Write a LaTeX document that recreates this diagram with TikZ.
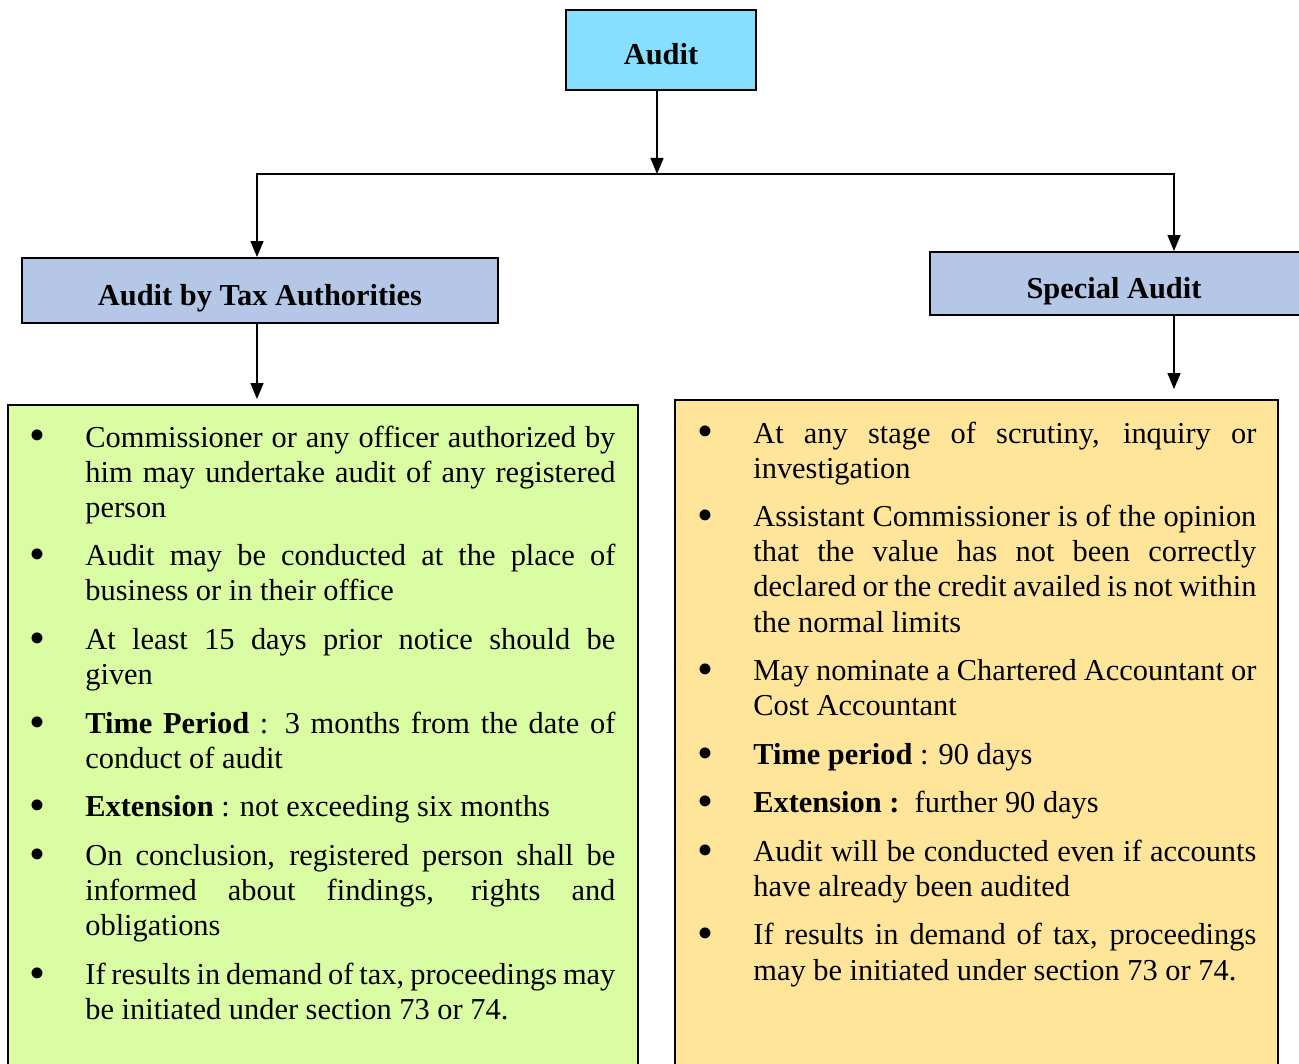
\documentclass[tikz,border=0pt]{standalone}
\usepackage{fontspec}
\setmainfont{Liberation Serif}
\usepackage{graphicx}
\usepackage{enumitem}
\usepackage{xcolor}
\usetikzlibrary{arrows.meta,positioning}
\definecolor{auditcyan}{RGB}{135,223,255}
\definecolor{headblue}{RGB}{180,199,231}
\definecolor{notegreen}{RGB}{218,253,163}
\definecolor{noteyellow}{RGB}{255,229,153}
\newcommand{\notebullet}{\raisebox{-0.13em}{\scalebox{1.5}{\textbullet}}}
\newcommand{\noteitems}{\setlist[itemize]{leftmargin=1.12cm,labelsep=0pt,labelwidth=1.12cm,align=left,topsep=0pt,partopsep=0pt,itemsep=7.6pt,parsep=0pt,label=\notebullet}}

\begin{document}
\begin{tikzpicture}[>={Triangle[length=0.32cm,width=0.26cm]},
box/.style={draw,line width=1.1pt,inner sep=0pt},
head/.style={box,font=\fontsize{17.3}{20}\selectfont\bfseries,text height=0.6cm,text depth=0pt},
notes/.style={anchor=north west,inner sep=0pt,align=justify,font=\fontsize{17.3}{20}\selectfont},
link/.style={->,line width=0.8pt}]
\useasboundingbox(0,0)rectangle(25.98,-21.28);
\node[head,fill=auditcyan,minimum width=3.8cm,minimum height=1.6cm](audit)at(13.22,-1.0){Audit};
\node[head,fill=headblue,minimum width=9.52cm,minimum height=1.3cm](tax)at(5.2,-5.81){Audit by Tax Authorities};
\node[head,fill=headblue,minimum width=7.6cm,minimum height=1.26cm](spec)at(22.4,-5.67){\hspace*{-0.24cm}Special Audit};
\node[box,fill=notegreen,minimum width=12.6cm,minimum height=13.4cm](lbox)at(6.46,-14.8){};
\node[box,fill=noteyellow,minimum width=12.06cm,minimum height=13.5cm](rbox)at(19.53,-14.75){};
\coordinate(jn)at(13.14,-3.48);
\node[notes,text width=11.72cm](ltext)at([xshift=0.44cm,yshift=-0.15cm]lbox.north west){\noteitems
\begin{itemize}
\item Commissioner or any officer authorized by\linebreak him may undertake audit of any registered\linebreak person
\item Audit may be conducted at the place of\linebreak business or in their office
\item At least 15 days prior notice should be\linebreak given
\item \textbf{Time Period} : 3 months from the date of\linebreak conduct of audit
\item \textbf{Extension} : not exceeding six months
\item On conclusion, registered person shall be\linebreak informed about findings, rights and\linebreak obligations
\item If results in demand of tax, proceedings may\linebreak be initiated under section 73 or 74.
\end{itemize}};
\node[notes,text width=11.18cm](rtext)at([xshift=0.46cm,yshift=-0.17cm]rbox.north west){\noteitems
\begin{itemize}
\item At any stage of scrutiny, inquiry or\linebreak investigation
\item Assistant Commissioner is of the opinion\linebreak that the value has not been correctly\linebreak declared or the credit availed is not within\linebreak the normal limits
\item May nominate a Chartered Accountant or\linebreak Cost Accountant
\item \textbf{Time period} : 90 days
\item \textbf{Extension :}\ \ further 90 days
\item Audit will be conducted even if accounts\linebreak have already been audited
\item If results in demand of tax, proceedings\linebreak may be initiated under section 73 or 74.
\end{itemize}};
\draw[link](audit.south-|jn)--(jn);
\draw[link](jn)-|([xshift=-0.06cm]tax.north);
\draw[link](jn)-|([xshift=1.08cm]spec.north);
\draw[link,shorten >=0.1cm]([xshift=-0.06cm]tax.south)--([xshift=-0.06cm]tax.south|-lbox.north);
\draw[link,shorten >=0.2cm]([xshift=1.08cm]spec.south)--([xshift=1.08cm]spec.south|-rbox.north);
\end{tikzpicture}
\end{document}
